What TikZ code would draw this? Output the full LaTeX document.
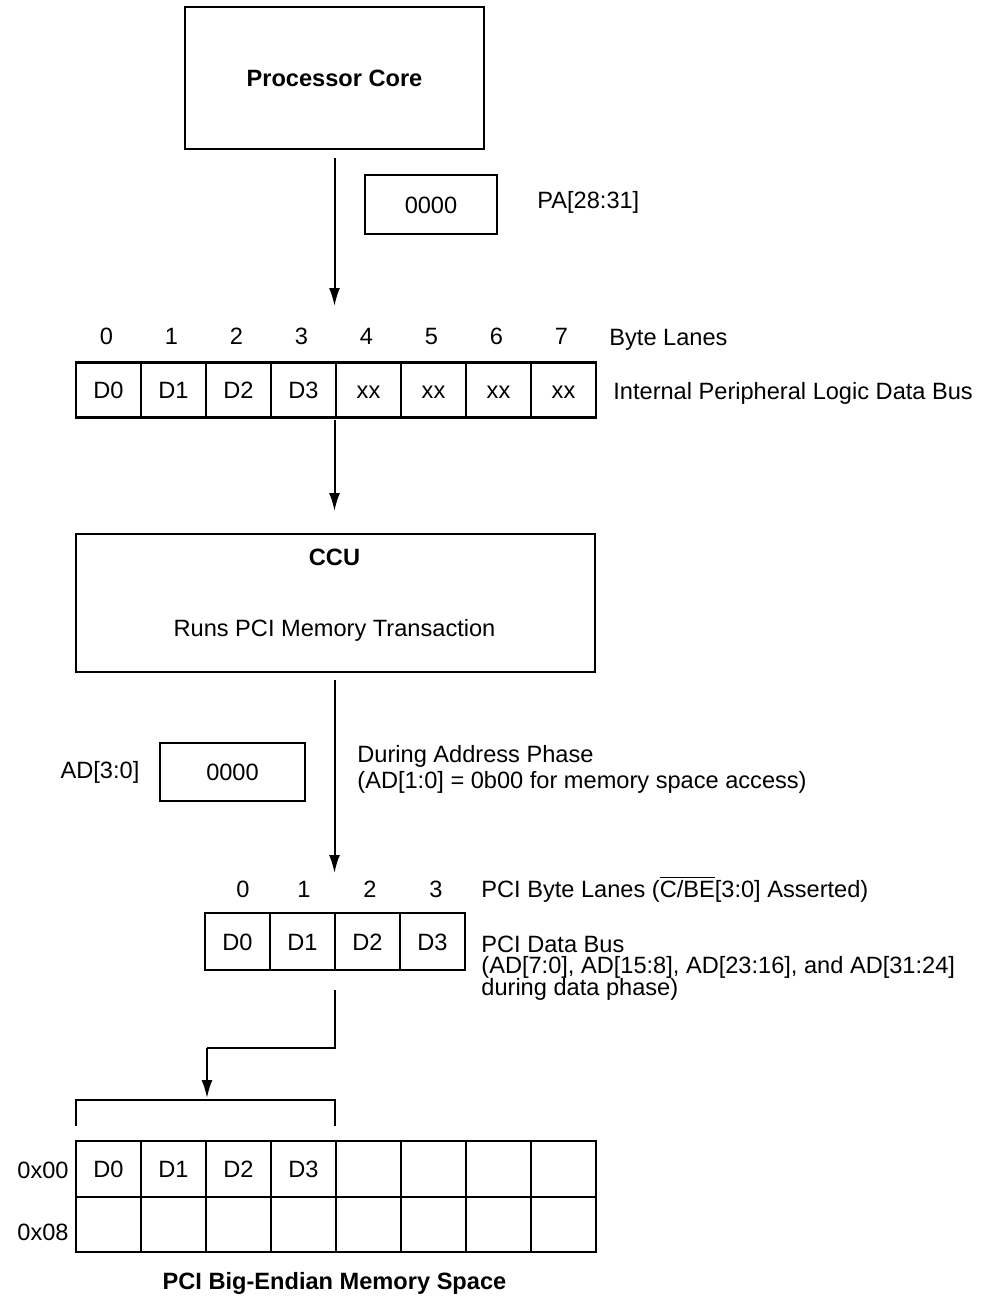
\documentclass[tikz,border=0pt]{standalone}
\usepackage{fontspec}
\setmainfont{Liberation Sans}
\usetikzlibrary{arrows.meta}
\begin{document}
\begin{tikzpicture}[x=0.5pt,y=-0.5pt,
  every node/.style={font=\fontsize{11.8}{13}\selectfont, inner sep=0pt},
  box/.style={draw, line width=1.2pt},
  cell/.style={draw, line width=1.2pt, minimum width=32.5pt, minimum height=27.5pt, text height=8.5pt, text depth=0pt},
  lbl/.style={anchor=base west},
  arr/.style={line width=1pt, -{Latex[length=9pt,width=5.5pt]}},
  ln/.style={line width=1pt}]
\useasboundingbox (0,0) rectangle (984,1303);
% Processor core
\node[box, minimum width=149.5pt, minimum height=71pt, font=\fontsize{11.8}{13}\selectfont\bfseries] (pc) at (334.5,78) {Processor Core};
\node[box, minimum width=66pt, minimum height=29.5pt, text height=8.5pt, text depth=0pt] (pa) at (431,204.5) {0000};
\node[lbl] (palbl) at (537,208) {PA[28:31]};
\coordinate (a1s) at (334.5,158);
\coordinate (a1e) at (334.5,306);
\draw[arr] (a1s) -- (a1e);
% Byte lanes
\foreach \i/\t in {0/D0,1/D1,2/D2,3/D3,4/xx,5/xx,6/xx,7/xx}{
  \node[cell] (b\i) at ({76+65*\i+32.5},390) {\t};
  \node (n\i) at ({76+65*\i+30.5},336) {\i};
}
\node[lbl] (bl) at (609,345) {Byte Lanes};
\node[lbl] (ipl) at (613,399.5) {Internal Peripheral Logic Data Bus};
\coordinate (a2s) at (334.5,420);
\coordinate (a2e) at (334.5,511);
\draw[arr] (a2s) -- (a2e);
% CCU
\node[box, minimum width=259.5pt, minimum height=69pt] (ccu) at (335.5,603) {};
\node[font=\fontsize{11.8}{13}\selectfont\bfseries] (ccut) at (334.5,557) {CCU};
\node (ccur) at (334.5,630) {Runs PCI Memory Transaction};
\coordinate (a3s) at (334.5,680);
\coordinate (a3e) at (334.5,873);
\draw[arr] (a3s) -- (a3e);
% AD box
\node[box, minimum width=72.5pt, minimum height=29pt, text height=8.5pt, text depth=0pt] (ad) at (232.5,772) {0000};
\node (adl) at (100,772) {AD[3:0]};
\node[lbl] (dap1) at (357,762.5) {During Address Phase};
\node[lbl] (dap2) at (357,788.5) {(AD[1:0] = 0b00 for memory space access)};
% PCI byte lanes
\foreach \i/\x in {0/243,1/304,2/370,3/436}{
  \node (p\i) at (\x,889) {\i};
}
\foreach \i in {0,1,2,3}{
  \node[cell, minimum height=28.5pt] (c\i) at ({205+65*\i+32.5},941.5) {D\i};
}
\node[lbl] (pbl) at (481,897.5) {PCI Byte Lanes ($\overline{\mbox{C/BE}}$[3:0] Asserted)};
\node[lbl] (pdb1) at (481,952) {PCI Data Bus};
\node[lbl] (pdb2) at (481,973.5) {(AD[7:0], AD[15:8], AD[23:16], and AD[31:24]};
\node[lbl] (pdb3) at (481,995) {during data phase)};
% connector to memory
\coordinate (l1) at (334.5,990);
\coordinate (l2) at (334.5,1048);
\coordinate (l3) at (207,1048);
\coordinate (l4) at (207,1098);
\draw[ln] (l1) -- (l2) -- (l3);
\draw[arr] (l3) -- (l4);
% bracket
\coordinate (k1) at (76,1126);
\coordinate (k2) at (76,1100);
\coordinate (k3) at (334.5,1100);
\coordinate (k4) at (334.5,1126);
\draw[ln] (k1) -- (k2) -- (k3) -- (k4);
% memory grid
\foreach \i in {0,...,7}{
  \node[cell, minimum height=28pt] (m0\i) at ({76+65*\i+32.5},1169) {};
  \node[cell, minimum height=27.5pt] (m1\i) at ({76+65*\i+32.5},1224.5) {};
}
\foreach \i in {0,1,2,3}{
  \node[text height=8.5pt, text depth=0pt] (md\i) at (m0\i) {D\i};
}
\node (r0) at (43,1170) {0x00};
\node (r1) at (43,1232) {0x08};
\node[font=\fontsize{11.8}{13}\selectfont\bfseries] (title) at (334.5,1283) {PCI Big-Endian Memory Space};
\end{tikzpicture}
\end{document}
